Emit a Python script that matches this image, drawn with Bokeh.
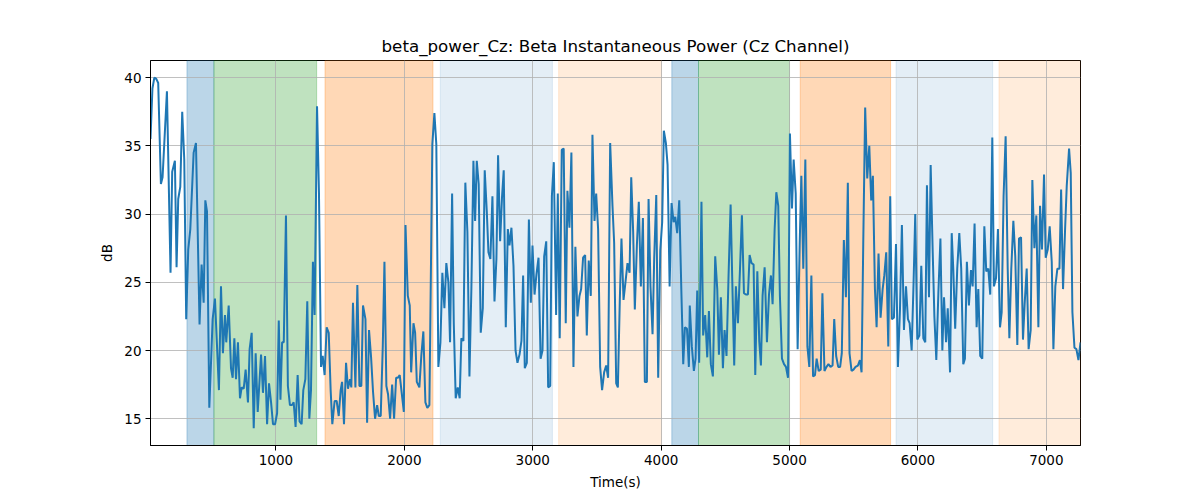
from bokeh.plotting import figure
from bokeh.models import Range1d, BoxAnnotation
from bokeh.embed import file_html
from bokeh.resources import INLINE

# ---- data (time in seconds, power in dB) ----
time_s = [
    23, 38, 53, 68, 83, 104, 117, 151, 179, 192, 213, 226, 239, 255, 270, 286, 301, 317, 333, 359,
    377, 405, 421, 437, 450, 463, 481, 507, 525, 556, 572, 587, 603, 613, 632, 650, 663, 676, 689, 704,
    720, 733, 749, 764, 782, 795, 811, 827, 842, 858, 884, 899, 915, 931, 946, 962, 977, 993, 1009, 1022,
    1035, 1048, 1061,
    1078, 1093, 1109, 1125, 1138, 1153, 1169, 1184, 1200, 1213, 1229, 1244, 1260, 1273, 1288,
    1301, 1320, 1335, 1351, 1364, 1379, 1395, 1411, 1426, 1439, 1457, 1473, 1489, 1504, 1515,
    1530, 1546, 1561, 1577, 1587, 1600, 1619, 1634, 1650, 1665, 1678, 1697, 1710, 1725, 1741,
    1756, 1772, 1788, 1801, 1816, 1832, 1845, 1860, 1873, 1889, 1905, 1920, 1936, 1949, 1964,
    1977, 1996, 2009, 2027, 2042, 2053, 2071, 2084, 2097,
    2117, 2132, 2148, 2164, 2179, 2195, 2218, 2234, 2249, 2265, 2281, 2296, 2312, 2327, 2343,
    2356, 2372, 2385, 2400, 2416, 2431, 2444, 2460, 2475, 2491, 2507, 2522, 2538, 2551, 2564,
    2579, 2595, 2611, 2626, 2642, 2655, 2670, 2686, 2702, 2717, 2730, 2746, 2761, 2774, 2790,
    2806, 2819, 2834, 2850, 2866, 2881, 2897, 2912, 2925, 2938, 2954, 2970, 2985, 2998, 3014,
    3029, 3045, 3061, 3076, 3089, 3105, 3120, 3136, 3149, 3164,
    3182, 3195, 3210, 3226, 3241, 3257, 3270, 3286, 3301, 3317, 3332, 3348, 3364, 3377, 3392,
    3408, 3421, 3436, 3452, 3465, 3481, 3494, 3509, 3525, 3540, 3556, 3572, 3587, 3603, 3621,
    3634, 3650, 3663, 3678, 3691, 3707, 3722, 3738, 3754, 3767, 3782, 3795, 3811, 3826, 3842,
    3858, 3873, 3889, 3902, 3917, 3933, 3946, 3962, 3977, 3993, 4008, 4021, 4037, 4050, 4066,
    4081, 4097, 4110, 4125, 4141, 4157, 4172, 4185, 4201, 4216,
    4223, 4239, 4255, 4268, 4281, 4296, 4314, 4327, 4343, 4359, 4372, 4387, 4403, 4421, 4437,
    4450, 4465, 4481, 4494, 4509, 4525, 4541, 4554, 4569, 4582, 4598, 4613, 4629, 4645, 4660,
    4676, 4689, 4704, 4720, 4733, 4749, 4764, 4777, 4790, 4806, 4824, 4840, 4855, 4868, 4884,
    4897, 4912, 4925, 4941, 4957, 4972, 4988, 5003, 5019, 5032, 5048, 5063, 5079, 5092, 5107,
    5123, 5139, 5154, 5170, 5183, 5198, 5211, 5227, 5243, 5256,
    5272, 5288, 5303, 5319, 5335, 5348, 5363, 5379, 5394, 5407, 5423, 5439, 5454, 5467, 5483,
    5498, 5514, 5532, 5548, 5561, 5574, 5589, 5605, 5621, 5636, 5649, 5665, 5678, 5693, 5709,
    5725, 5738, 5753, 5769, 5784, 5797, 5813, 5829, 5844, 5860, 5875, 5891, 5907, 5922, 5935,
    5951, 5966, 5979, 5995, 6011, 6026, 6042, 6057, 6070, 6086, 6099, 6115, 6128, 6143, 6159,
    6175, 6190, 6203, 6219, 6232, 6250, 6263,
    6275, 6290, 6306, 6322, 6337, 6353, 6366, 6381, 6397, 6413, 6426, 6441, 6457, 6470, 6485,
    6501, 6517, 6532, 6548, 6563, 6579, 6592, 6608, 6623, 6639, 6652, 6667, 6683, 6699, 6712,
    6727, 6743, 6758, 6774, 6787, 6803, 6818, 6831, 6847, 6862, 6878, 6891, 6907, 6922, 6938,
    6951, 6966, 6982, 6995, 7011, 7026, 7042, 7055, 7070, 7086, 7102, 7115, 7130, 7146, 7159,
    7177, 7190, 7203, 7219, 7234, 7250, 7266,
]

power_db = [
    35.5, 39.2, 40.0, 39.9, 39.6, 32.2, 32.7, 39.0, 25.7, 33.1, 33.9, 26.1, 31.1, 32.0, 37.5, 34.0, 22.3, 27.4, 28.9, 34.5,
    35.2, 21.9, 26.3, 23.5, 31.0, 30.2, 15.8, 22.3, 23.8, 17.1, 24.7, 19.8, 22.6, 20.6, 23.3, 18.7, 18.0, 20.9, 17.9, 20.6,
    16.5, 17.3, 17.2, 18.6, 16.2, 20.1, 21.3, 14.3, 19.8, 15.5, 19.7, 16.9, 19.6, 14.6, 17.6, 16.2, 14.6, 14.6, 15.4, 22.2,
    16.4, 20.6, 20.6,
    29.9, 17.4, 16.0, 16.0, 16.2, 14.4, 18.2, 14.8, 14.6, 17.1, 17.9, 23.6, 15.0, 17.1, 26.5,
    22.6, 37.9, 31.6, 18.8, 19.6, 18.2, 21.7, 21.3, 17.1, 14.6, 16.3, 16.3, 15.2, 17.1, 17.7,
    14.6, 19.1, 17.2, 17.9, 17.3, 23.5, 17.3, 24.8, 17.4, 17.4, 23.3, 22.3, 14.7, 21.5, 19.5,
    17.0, 15.0, 16.0, 15.2, 15.2, 20.3, 26.5, 17.4, 16.8, 15.0, 17.5, 15.0, 18.0, 18.0, 18.2,
    17.1, 15.5, 29.2, 24.0, 23.3, 18.4, 22.0, 21.3, 17.7,
    17.3, 19.6, 21.4, 16.2, 15.8, 16.0, 35.1, 37.4, 35.1, 18.8, 20.6, 25.7, 23.1, 26.4, 25.0,
    20.6, 31.5, 22.0, 16.5, 17.3, 16.5, 20.9, 20.7, 32.3, 28.7, 18.1, 24.5, 33.9, 29.5, 33.9,
    32.2, 21.3, 23.1, 33.2, 30.2, 27.2, 26.7, 31.3, 23.6, 26.7, 34.3, 28.0, 31.3, 33.2, 21.7,
    28.9, 27.7, 29.0, 26.2, 20.0, 19.1, 19.7, 20.7, 25.5, 18.7, 19.1, 29.6, 23.5, 27.7, 24.1,
    25.6, 26.8, 19.4, 20.0, 26.9, 28.0, 17.3, 17.4, 31.3, 33.8,
    22.6, 31.5, 20.9, 34.7, 34.8, 22.0, 31.7, 29.0, 34.5, 18.8, 27.6, 22.5, 24.0, 24.5, 26.8,
    27.0, 21.1, 26.6, 24.0, 35.8, 29.5, 31.5, 28.9, 18.8, 17.1, 18.4, 18.9, 18.0, 35.2, 30.6,
    27.9, 17.6, 17.3, 23.7, 28.2, 23.7, 25.0, 26.4, 25.7, 32.7, 28.7, 23.0, 27.7, 30.9, 24.7,
    29.7, 17.7, 17.7, 31.1, 24.7, 21.2, 26.8, 31.4, 18.0, 27.3, 29.4, 36.1, 35.2, 33.6, 24.7,
    30.8, 29.4, 29.8, 28.6, 31.0, 24.5, 19.0, 21.7, 21.6, 18.8,
    23.3, 20.3, 18.5, 19.4, 24.4, 19.1, 30.9, 21.1, 22.6, 19.5, 22.9, 19.0, 18.1, 26.9, 24.5,
    19.7, 23.9, 18.7, 21.5, 19.6, 25.5, 30.7, 25.1, 18.9, 24.7, 22.0, 25.7, 29.9, 24.2, 24.1,
    24.1, 27.0, 26.4, 26.3, 18.2, 25.8, 20.7, 18.9, 24.0, 26.1, 20.6, 24.1, 25.5, 23.4, 28.9,
    31.6, 30.6, 24.0, 19.4, 19.0, 18.8, 18.0, 35.9, 30.4, 34.0, 31.5, 20.1, 27.8, 32.8, 26.0,
    34.0, 20.3, 18.8, 25.5, 18.1, 18.2, 19.4, 18.5, 18.6, 24.2,
    18.5, 18.8, 19.0, 18.8, 18.9, 22.3, 19.6, 18.8, 18.8, 19.8, 28.1, 23.9, 32.3, 19.8, 18.5,
    18.6, 18.8, 18.9, 19.3, 18.4, 27.8, 37.8, 32.6, 35.0, 31.0, 32.8, 24.5, 21.7, 27.1, 22.4,
    24.5, 25.5, 27.2, 20.3, 31.3, 22.3, 22.4, 27.8, 18.8, 23.0, 29.2, 21.5, 24.7, 22.3, 22.0,
    20.0, 25.0, 30.0, 20.8, 21.1, 26.2, 20.9, 20.6, 32.1, 23.9, 33.6, 27.2, 22.5, 19.3, 24.2,
    28.2, 20.0, 23.9, 20.6, 23.1, 18.4, 28.6,
    26.0, 21.6, 26.0, 28.6, 26.0, 19.0, 19.4, 26.5, 23.3, 25.9, 24.7, 29.3, 21.7, 24.5, 19.6,
    19.4, 29.1, 25.8, 26.0, 24.1, 35.6, 24.7, 25.3, 28.9, 21.7, 22.8, 31.3, 35.7, 26.0, 20.9,
    26.0, 29.5, 26.9, 20.4, 28.2, 28.3, 20.8, 23.4, 26.0, 20.1, 21.5, 32.5, 27.5, 29.9, 21.7,
    30.6, 27.4, 32.9, 26.8, 27.4, 29.1, 26.5, 20.1, 24.7, 26.0, 26.0, 31.8, 24.5, 28.9, 32.1,
    34.8, 33.0, 22.8, 20.2, 20.1, 19.3, 20.6,
]

# shaded phases
band_start = [307, 517, 1382, 2280, 3202, 4083, 4291, 5083, 5829, 6631]
band_end = [517, 1317, 2223, 3153, 4003, 4291, 5000, 5787, 6582, 7266]
band_color = ["#1f77b4", "#2ca02c", "#ff7f0e", "#1f77b4", "#ff7f0e",
              "#1f77b4", "#2ca02c", "#ff7f0e", "#1f77b4", "#ff7f0e"]
band_alpha = [0.3, 0.3, 0.3, 0.12, 0.15, 0.3, 0.3, 0.3, 0.12, 0.15]

x_ticks = [1000, 2000, 3000, 4000, 5000, 6000, 7000]
y_ticks = [15, 20, 25, 30, 35, 40]
x_limits = (23, 7266)
y_limits = (13.04, 41.25)

FONT = "DejaVu Sans"

p = figure(
    frame_width=930, frame_height=385,
    min_border_left=150, min_border_right=112, min_border_top=60, min_border_bottom=47,
    x_range=Range1d(*x_limits), y_range=Range1d(*y_limits),
    output_backend="svg", toolbar_location=None,
    title="beta_power_Cz: Beta Instantaneous Power (Cz Channel)",
    background_fill_color="white", border_fill_color="white",
)

for s, e, c, a in zip(band_start, band_end, band_color, band_alpha):
    p.add_layout(BoxAnnotation(left=s, right=e, fill_color=c, fill_alpha=a,
                               line_color=c, line_alpha=a, line_width=1, level="image"))

p.line(time_s, power_db, line_color="#1f77b4", line_width=2)

p.title.align = "center"
p.title.text_font = FONT
p.title.text_font_size = "16.7px"
p.title.text_font_style = "normal"
p.title.text_color = "black"

p.xaxis.ticker = x_ticks
p.yaxis.ticker = y_ticks
p.xaxis.axis_label = "Time(s)"
p.yaxis.axis_label = "dB"
for ax in (p.xaxis, p.yaxis):
    ax.axis_label_text_font = FONT
    ax.axis_label_text_font_size = "13.5px"
    ax.axis_label_text_font_style = "normal"
    ax.axis_label_text_color = "black"
    ax.major_label_text_font = FONT
    ax.major_label_text_font_size = "13.5px"
    ax.major_label_text_color = "black"
    ax.minor_tick_line_color = None
    ax.major_tick_in = 0
    ax.major_tick_out = 5
    ax.major_tick_line_color = "black"
    ax.axis_line_color = "black"
    ax.major_label_standoff = 4
    ax.axis_label_standoff = 6

p.grid.grid_line_color = "#b0b0b0"
p.grid.grid_line_width = 0.8
p.outline_line_color = "black"
p.outline_line_width = 1
p.outline_line_alpha = 1

open("out.html", "w").write(file_html(p, INLINE))
